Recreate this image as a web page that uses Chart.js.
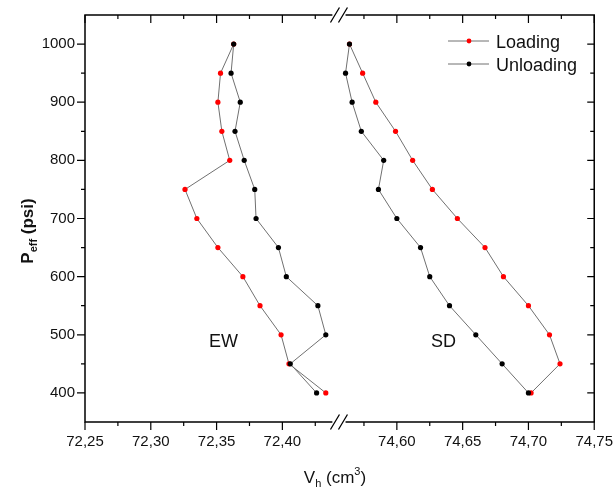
<!DOCTYPE html>
<html>
<head>
<meta charset="utf-8">
<script src="https://cdn.jsdelivr.net/npm/chart.js@4.4.1/dist/chart.umd.min.js"></script>
<style>
  html, body { margin: 0; padding: 0; background: #fff; }
  canvas { display: block; }
</style>
</head>
<body>
<canvas id="chart" width="616" height="491"></canvas>
<script>
// Effective pressure steps (psi)
const pressureUp   = [400, 450, 500, 550, 600, 650, 700, 750, 800, 850, 900, 950, 1000];
const pressureDown = [1000, 950, 900, 850, 800, 750, 700, 650, 600, 550, 500, 450, 400];

// Hole volume V_h (cm3) – EW sample
const ewLoading   = [72.433, 72.405, 72.399, 72.383, 72.370, 72.351, 72.335, 72.326, 72.360, 72.354, 72.351, 72.353, 72.363];
const ewUnloading = [72.363, 72.361, 72.368, 72.364, 72.371, 72.379, 72.380, 72.397, 72.403, 72.427, 72.433, 72.406, 72.426];

// Hole volume V_h (cm3) – SD sample
const sdLoading   = [74.702, 74.724, 74.716, 74.700, 74.681, 74.667, 74.646, 74.627, 74.612, 74.599, 74.584, 74.574, 74.564];
const sdUnloading = [74.564, 74.561, 74.566, 74.573, 74.590, 74.586, 74.600, 74.618, 74.625, 74.640, 74.660, 74.680, 74.700];

// x tick positions on both sides of the axis break
const xTicks = [72.25, 72.275, 72.30, 72.325, 72.35, 72.375, 72.40, 72.425,
                74.575, 74.60, 74.625, 74.65, 74.675, 74.70, 74.725, 74.75];

// Broken x axis: the span between the two segments is cut out
const AXIS_SHIFT = 2.113;
const SEG_SPLIT = 73.5;
const LEFT_END = 72.438;
const RIGHT_START = 74.561;
const squeeze = v => (v > SEG_SPLIT ? v - AXIS_SHIFT : v);

class BrokenLinearScale extends Chart.LinearScale {
  buildTicks() {
    this.start = this.min;
    this.end = this.max;
    return xTicks.map(v => ({ value: v }));
  }
  getPixelForValue(value) {
    if (value === null || value === undefined || isNaN(value)) return NaN;
    const lo = squeeze(this.min), hi = squeeze(this.max);
    return this.getPixelForDecimal((squeeze(value) - lo) / (hi - lo));
  }
  getValueForPixel(pixel) {
    const lo = squeeze(this.min), hi = squeeze(this.max);
    const c = lo + this.getDecimalForPixel(pixel) * (hi - lo);
    const cut = (LEFT_END + squeeze(RIGHT_START)) / 2;
    return c > cut ? c + AXIS_SHIFT : c;
  }
}
BrokenLinearScale.id = 'brokenLinear';
BrokenLinearScale.defaults = Chart.LinearScale.defaults;
Chart.register(BrokenLinearScale);

const pts = (xs, ps) => xs.map((v, i) => ({ x: v, y: ps[i] }));

const LINE_GREY = '#707070';
const FONT = "'Liberation Sans', Arial, Helvetica, sans-serif";

const series = (label, xs, ps, color) => ({
  label,
  data: pts(xs, ps),
  showLine: true,
  borderColor: LINE_GREY,
  borderWidth: 1,
  tension: 0,
  pointRadius: 2.6,
  pointHoverRadius: 2.6,
  pointBorderWidth: 0,
  pointBackgroundColor: color,
  pointBorderColor: color
});

// Frame, ticks, break marks, axis titles, legend and sample labels
const decorations = {
  id: 'decorations',
  afterDraw(chart) {
    const { ctx, chartArea: a, scales: { x, y } } = chart;
    const pL = x.getPixelForValue(LEFT_END);
    const pR = x.getPixelForValue(RIGHT_START);
    ctx.save();

    // axis frame with gap at the break
    ctx.strokeStyle = '#000';
    ctx.lineWidth = 1.5;
    ctx.beginPath();
    ctx.moveTo(a.left, a.top - 0.75); ctx.lineTo(a.left, a.bottom + 0.75);
    ctx.moveTo(a.right, a.top - 0.75); ctx.lineTo(a.right, a.bottom + 0.75);
    for (const yy of [a.top, a.bottom]) {
      ctx.moveTo(a.left, yy); ctx.lineTo(pL, yy);
      ctx.moveTo(pR, yy); ctx.lineTo(a.right, yy);
    }
    ctx.stroke();

    // break marks "//"
    ctx.lineWidth = 1.3;
    const mid = (pL + pR) / 2;
    ctx.beginPath();
    for (const yy of [a.top, a.bottom]) {
      for (const c of [mid - 4, mid + 4]) {
        ctx.moveTo(c - 4.5, yy + 7.5);
        ctx.lineTo(c + 4.5, yy - 7.5);
      }
    }
    ctx.stroke();

    // tick marks
    ctx.lineWidth = 1.2;
    ctx.beginPath();
    x.ticks.forEach(t => {
      const px = x.getPixelForValue(t.value);
      const len = t.label ? 8 : 4;
      ctx.moveTo(px, a.bottom); ctx.lineTo(px, a.bottom + len);
      ctx.moveTo(px, a.top); ctx.lineTo(px, a.top + len);
    });
    y.ticks.forEach(t => {
      if (t.value <= y.min || t.value >= y.max) return;
      const py = y.getPixelForValue(t.value);
      const major = t.label !== '';
      ctx.moveTo(a.left, py); ctx.lineTo(a.left - (major ? 8 : 4), py);
      ctx.moveTo(a.right, py); ctx.lineTo(a.right - (major ? 7 : 4), py);
    });
    ctx.stroke();

    ctx.fillStyle = '#111';
    ctx.textBaseline = 'alphabetic';

    // x axis title: V_h (cm^3)
    {
      const big = `17px ${FONT}`, small = `11px ${FONT}`;
      const parts = [
        { t: 'V', f: big, dy: 0 },
        { t: 'h', f: small, dy: 4 },
        { t: ' (cm', f: big, dy: 0 },
        { t: '3', f: small, dy: -8 },
        { t: ')', f: big, dy: 0 }
      ];
      let w = 0;
      parts.forEach(p => { ctx.font = p.f; p.w = ctx.measureText(p.t).width; w += p.w; });
      let cx = 335 - w / 2;
      ctx.textAlign = 'left';
      parts.forEach(p => { ctx.font = p.f; ctx.fillText(p.t, cx, 483 + p.dy); cx += p.w; });
    }

    // y axis title: P_eff (psi)
    {
      const big = `bold 17px ${FONT}`, small = `bold 11px ${FONT}`;
      const parts = [
        { t: 'P', f: big, dy: 0 },
        { t: 'eff', f: small, dy: 4 },
        { t: ' (psi)', f: big, dy: 0 }
      ];
      let w = 0;
      parts.forEach(p => { ctx.font = p.f; p.w = ctx.measureText(p.t).width; w += p.w; });
      ctx.save();
      ctx.translate(33, 231);
      ctx.rotate(-Math.PI / 2);
      let cx = -w / 2;
      ctx.textAlign = 'left';
      parts.forEach(p => { ctx.font = p.f; ctx.fillText(p.t, cx, p.dy); cx += p.w; });
      ctx.restore();
    }

    // legend
    const legendRows = [
      { label: 'Loading', color: '#ff0000', y: 41 },
      { label: 'Unloading', color: '#000000', y: 64 }
    ];
    legendRows.forEach(r => {
      ctx.strokeStyle = LINE_GREY;
      ctx.lineWidth = 1;
      ctx.beginPath();
      ctx.moveTo(448, r.y); ctx.lineTo(489, r.y);
      ctx.stroke();
      ctx.fillStyle = r.color;
      ctx.beginPath();
      ctx.arc(469, r.y, 2.4, 0, Math.PI * 2);
      ctx.fill();
      ctx.fillStyle = '#111';
      ctx.font = `18px ${FONT}`;
      ctx.textAlign = 'left';
      ctx.fillText(r.label, 496, r.y + 6.5);
    });

    // sample labels
    ctx.font = `18px ${FONT}`;
    ctx.textAlign = 'left';
    ctx.fillText('EW', 209, 347);
    ctx.fillText('SD', 431, 347);

    ctx.restore();
  }
};

new Chart(document.getElementById('chart'), {
  type: 'scatter',
  data: {
    datasets: [
      series('Unloading', ewUnloading, pressureDown, '#000000'),
      series('Unloading', sdUnloading, pressureDown, '#000000'),
      series('Loading', ewLoading, pressureUp, '#ff0000'),
      series('Loading', sdLoading, pressureUp, '#ff0000')
    ]
  },
  options: {
    responsive: false,
    devicePixelRatio: 1,
    animation: false,
    layout: { padding: { top: 15, right: 21, left: 0, bottom: 0 } },
    plugins: { legend: { display: false }, tooltip: { enabled: false } },
    scales: {
      x: {
        type: 'brokenLinear',
        min: 72.25,
        max: 74.75,
        grid: { display: false, drawTicks: true, tickLength: 8 },
        border: { display: false },
        afterFit: s => { s.height = 69; },
        ticks: {
          autoSkip: false,
          maxRotation: 0,
          minRotation: 0,
          padding: 3,
          color: '#111',
          font: { family: FONT, size: 15 },
          callback: v => {
            const k = v * 20;
            return Math.abs(k - Math.round(k)) < 1e-6 ? v.toFixed(2).replace('.', ',') : '';
          }
        }
      },
      y: {
        type: 'linear',
        min: 350,
        max: 1050,
        grid: { display: false, drawTicks: true, tickLength: 8 },
        border: { display: false },
        afterFit: s => { s.width = 85; },
        ticks: {
          stepSize: 50,
          autoSkip: false,
          padding: 2,
          color: '#111',
          font: { family: FONT, size: 15 },
          callback: v => (v % 100 === 0 ? String(v) : '')
        }
      }
    }
  },
  plugins: [decorations]
});
</script>
</body>
</html>
